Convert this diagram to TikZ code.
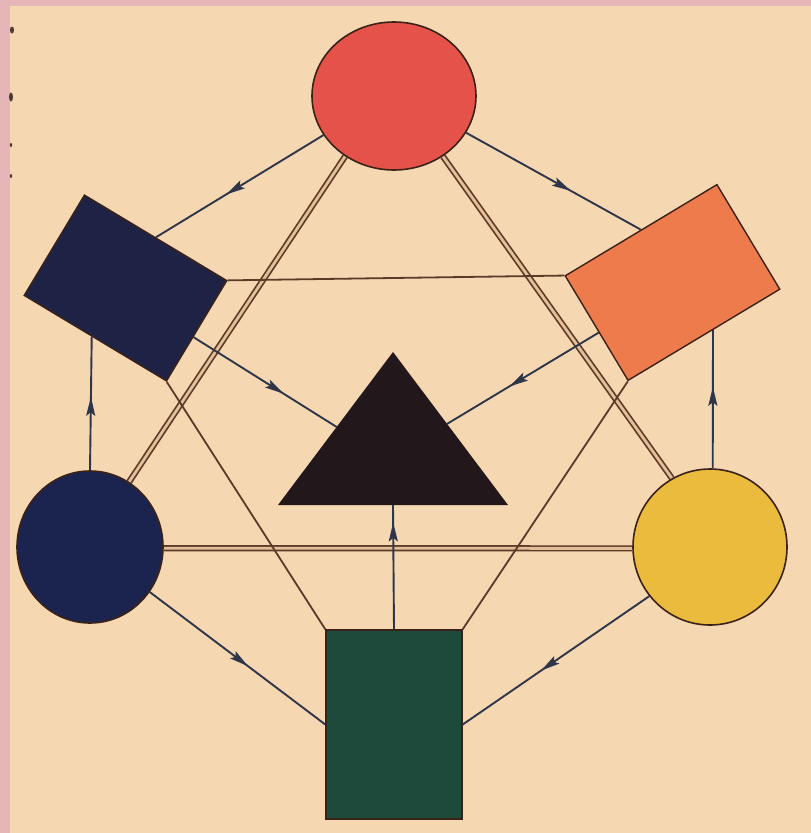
\documentclass[tikz,border=0pt]{standalone}
\usetikzlibrary{shapes.geometric,calc,decorations.markings,arrows.meta}
\definecolor{paperc}{HTML}{F5D7B2}
\definecolor{pinkc}{HTML}{E6B5B7}
\definecolor{redc}{HTML}{E4524A}
\definecolor{navyc}{HTML}{1E2244}
\definecolor{orangec}{HTML}{EE7B4C}
\definecolor{trianglec}{HTML}{22171A}
\definecolor{bluec}{HTML}{1B244F}
\definecolor{yellowc}{HTML}{EBBB3E}
\definecolor{greenc}{HTML}{1E4A3B}
\definecolor{edgec}{HTML}{3A2218}
\definecolor{arrowc}{HTML}{30364A}
\definecolor{brownc}{HTML}{5B3B28}
\definecolor{dblinner}{HTML}{E2BF98}
\definecolor{markc}{HTML}{4A3A36}
\pgfdeclarelayer{paper}
\pgfdeclarelayer{links}
\pgfsetlayers{paper,links,main}
\begin{document}
\begin{tikzpicture}[x=1pt,y=-1pt,
  roundshape/.style={ellipse,draw=edgec,line width=1.6pt,inner sep=0pt},
  rectshape/.style={rectangle,draw=edgec,line width=1.4pt,inner sep=0pt},
  dbl/.style={draw=brownc,line width=1.7pt,double=dblinner,double distance=2.8pt},
  thinl/.style={draw=brownc,line width=1.8pt},
  arrowlink/.style={draw=arrowc,line width=1.9pt,postaction={decorate},
    decoration={markings,mark=at position #1 with {\arrow{Stealth[length=19pt,width=9pt,inset=3.5pt]}}}}
]
\begin{pgfonlayer}{paper}
\fill[pinkc] (0,0) rectangle (811,833);
\fill[paperc] (10,6) rectangle (811,833);
\fill[markc] (12,30) ellipse (2pt and 3.5pt);
\fill[markc] (11,97) ellipse (2pt and 4.5pt);
\fill[markc] (11,145) ellipse (1.2pt and 2pt);
\fill[markc] (11,176) ellipse (1.2pt and 2pt);
\end{pgfonlayer}
\useasboundingbox (0,0) rectangle (811,833);

% shapes
\node[roundshape,fill=redc,minimum width=164pt,minimum height=148pt] (red) at (394,96) {};
\node[roundshape,fill=bluec,minimum width=146pt,minimum height=152pt] (blue) at (90,547) {};
\node[roundshape,fill=yellowc,minimum width=154pt,minimum height=156pt] (yellow) at (710,547) {};
\node[rectshape,fill=navyc,minimum width=166pt,minimum height=117pt,rotate=-31] (navy) at (125.5,288) {};
\node[rectshape,fill=orangec,minimum width=177pt,minimum height=122pt,rotate=31] (orange) at (672.5,282.5) {};
\node[rectshape,fill=greenc,minimum width=136pt,minimum height=189pt] (green) at (394,724.5) {};
\coordinate (tA) at (393,352);
\coordinate (tL) at (278,505);
\coordinate (tR) at (508,505);
\fill[trianglec] (tA) -- (tL) -- (tR) -- cycle;

\begin{pgfonlayer}{links}
% double lines (primary triangle)
\draw[dbl] (red.-129) -- (blue.59.5);
\draw[dbl] (red.-51.7) -- (yellow.119.7);
\draw[dbl] (blue.-1) -- (yellow.181);
% single lines (secondary triangle)
\draw[thinl] (navy.north east) -- (orange.north west);
\draw[thinl] (navy.south east) -- (green.north west);
\draw[thinl] (orange.south west) -- (green.north east);
% arrows
\draw[arrowlink=0.58] (red.-151) -- (navy.north);
\draw[arrowlink=0.6] (red.-27) -- (orange.north);
\draw[arrowlink=0.63] ($(navy.north east)!0.56!(navy.south east)$) -- ($(tL)!0.51!(tA)$);
\draw[arrowlink=0.59] ($(orange.north west)!0.54!(orange.south west)$) -- ($(tR)!0.53!(tA)$);
\draw[arrowlink=0.55] (blue.90) -- ($(navy.south west)!0.477!(navy.south east)$);
\draw[arrowlink=0.59] (yellow.88) -- ($(orange.south west)!0.557!(orange.south east)$);
\draw[arrowlink=0.56] (blue.-37) -- (green.west);
\draw[arrowlink=0.58] (yellow.-141) -- (green.east);
\draw[arrowlink=0.86] (green.north) -- ($(tL)!0.5!(tR)$);
\end{pgfonlayer}
\end{tikzpicture}
\end{document}
